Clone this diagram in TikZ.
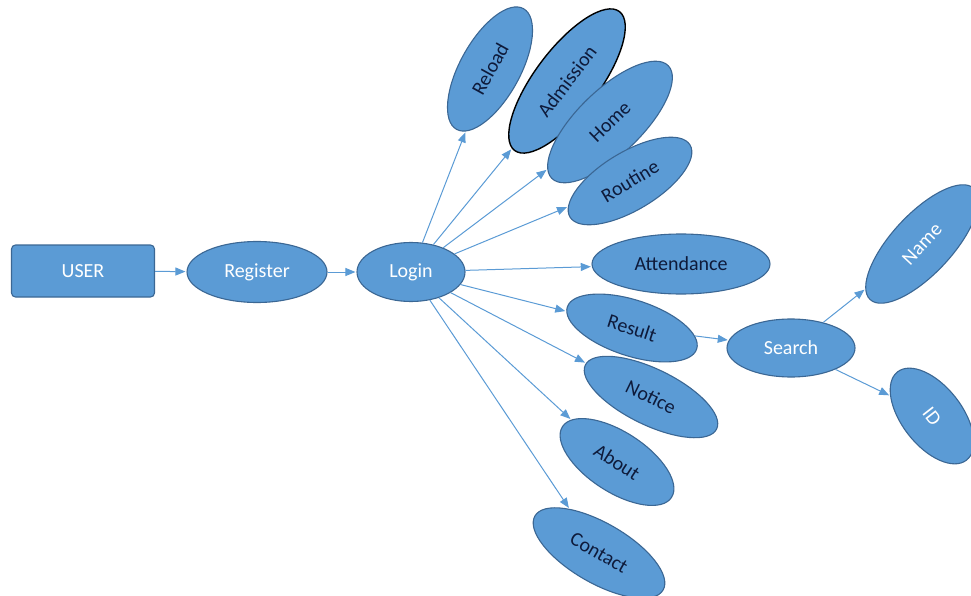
\documentclass[tikz,border=0pt]{standalone}
\usepackage{fontspec}
\setmainfont{Carlito}
\usetikzlibrary{shapes.geometric,arrows.meta}
\definecolor{boxfill}{HTML}{5B9BD5}
\definecolor{boxline}{HTML}{3B6794}
\definecolor{linkcol}{HTML}{5B9BD5}
\definecolor{darktext}{HTML}{0E1A3A}
\tikzset{
  base/.style={fill=boxfill, draw=boxline, line width=1.1pt, inner sep=0pt,
    font=\fontsize{20}{20}\selectfont},
  light/.style={base, text=white},
  dark/.style={base, text=darktext},
  oval/.style 2 args={ellipse, minimum width=#1, minimum height=#2},
  link/.style={draw=linkcol, line width=1pt,
    -{Triangle[length=10pt,width=8pt]}, shorten >=1pt},
}
\begin{document}
\begin{tikzpicture}[x=1pt, y=-1pt]
\useasboundingbox (0,0) rectangle (971,596);
\clip (0,0) rectangle (971,596);

% main flow
\node[light, rectangle, rounded corners=4pt, minimum width=143pt, minimum height=52pt] (user) at (83,271) {USER};
\node[light, oval={140pt}{61pt}] (register) at (257,272) {Register};
\node[light, oval={108pt}{59pt}] (login) at (411,272) {Login};

% pages reachable after login
\node[dark, oval={138pt}{60pt}, rotate=61] (reload) at (490,69) {Reload};
\node[dark, oval={174pt}{64pt}, rotate=53, draw=black, line width=1.4pt] (admission) at (567,81) {Admission};
\node[dark, oval={162pt}{64pt}, rotate=44] (home) at (610,122) {Home};
\node[dark, oval={140pt}{58pt}, rotate=31] (routine) at (630,181) {Routine};
\node[dark, oval={178pt}{60pt}] (attendance) at (681,264) {Attendance};
\node[dark, oval={136pt}{56pt}, rotate=-18] (result) at (632,328) {Result};
\node[dark, oval={146pt}{56pt}, rotate=-26] (notice) at (651,397) {Notice};
\node[dark, oval={130pt}{60pt}, rotate=-33] (about) at (617,462) {About};
\node[dark, oval={148pt}{60pt}, rotate=-30] (contact) at (599,553) {Contact};

% search branch
\node[light, oval={128pt}{58pt}] (search) at (791,348) {Search};
\node[light, oval={152pt}{60pt}, rotate=47] (name) at (922,244) {Name};
\node[light, oval={112pt}{60pt}, rotate=-52] (id) at (932,416) {ID};

% connectors
\draw[link] (user) -- (register);
\draw[link] (register) -- (login);
\foreach \t in {reload,admission,home,routine,attendance,result,notice,about,contact}
  \draw[link] (login) -- (\t);
\draw[link] (result) -- (search);
\draw[link] (search) -- (name);
\draw[link] (search) -- (id);
\end{tikzpicture}
\end{document}
